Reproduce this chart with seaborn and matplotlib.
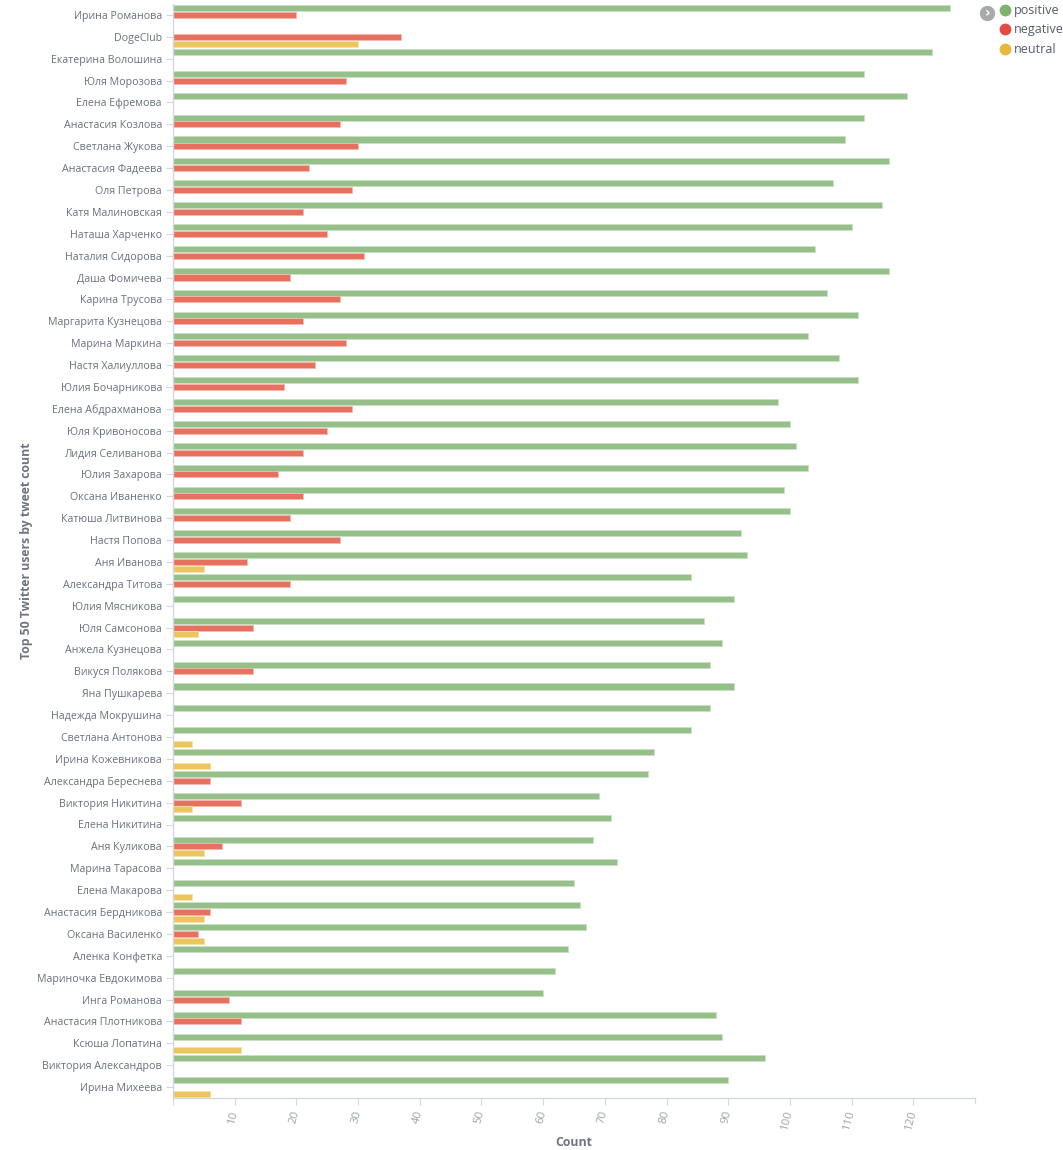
import numpy as np
import pandas as pd
import matplotlib
matplotlib.use("Agg")
import matplotlib.pyplot as plt
from matplotlib.lines import Line2D
import seaborn as sns

users = [
    "Ирина Романова", "DogeClub", "Екатерина Волошина", "Юля Морозова", "Елена Ефремова",
    "Анастасия Козлова", "Светлана Жукова", "Анастасия Фадеева", "Оля Петрова", "Катя Малиновская",
    "Наташа Харченко", "Наталия Сидорова", "Даша Фомичева", "Карина Трусова", "Маргарита Кузнецова",
    "Марина Маркина", "Настя Халиуллова", "Юлия Бочарникова", "Елена Абдрахманова", "Юля Кривоносова",
    "Лидия Селиванова", "Юлия Захарова", "Оксана Иваненко", "Катюша Литвинова", "Настя Попова",
    "Аня Иванова", "Александра Титова", "Юлия Мясникова", "Юля Самсонова", "Анжела Кузнецова",
    "Викуся Полякова", "Яна Пушкарева", "Надежда Мокрушина", "Светлана Антонова", "Ирина Кожевникова",
    "Александра Береснева", "Виктория Никитина", "Елена Никитина", "Аня Куликова", "Марина Тарасова",
    "Елена Макарова", "Анастасия Бердникова", "Оксана Василенко", "Аленка Конфетка", "Мариночка Евдокимова",
    "Инга Романова", "Анастасия Плотникова", "Ксюша Лопатина", "Виктория Александров", "Ирина Михеева",
]

positive = [126, None, 123, 112, 119, 112, 109, 116, 107, 115,
            110, 104, 116, 106, 111, 103, 108, 111, 98, 100,
            101, 103, 99, 100, 92, 93, 84, 91, 86, 89,
            87, 91, 87, 84, 78, 77, 69, 71, 68, 72,
            65, 66, 67, 64, 62, 60, 88, 89, 96, 90]
negative = [20, 37, None, 28, None, 27, 30, 22, 29, 21,
            25, 31, 19, 27, 21, 28, 23, 18, 29, 25,
            21, 17, 21, 19, 27, 12, 19, None, 13, None,
            13, None, None, None, None, 6, 11, None, 8, None,
            None, 6, 4, None, None, 9, 11, None, None, None]
neutral = [None, 30, None, None, None, None, None, None, None, None,
           None, None, None, None, None, None, None, None, None, None,
           None, None, None, None, None, 5, None, None, 4, None,
           None, None, None, 3, 6, None, 3, None, 5, None,
           3, 5, 5, None, None, None, None, 11, None, 6]

sentiments = ["positive", "negative", "neutral"]
bar_colors = {"positive": "#95C08A", "negative": "#E8705F", "neutral": "#EDC55F"}
edge_colors = {"positive": "#C9E0C2", "negative": "#F5B8B0", "neutral": "#F6E0A8"}
dot_colors = {"positive": "#7EB26D", "negative": "#E24D42", "neutral": "#EAB839"}

rows = []
for s, vals in zip(sentiments, [positive, negative, neutral]):
    for u, v in zip(users, vals):
        if v is not None:
            rows.append({"user": u, "sentiment": s, "count": v})
df = pd.DataFrame(rows)

sns.set_theme(style="white")
plt.rcParams["font.family"] = ["Open Sans", "DejaVu Sans"]

fig = plt.figure(figsize=(10.63, 11.5), dpi=100)
ax = fig.add_axes([173 / 1063, 1 - 1098 / 1150, (975 - 173) / 1063, (1098 - 4) / 1150])

sns.barplot(data=df, y="user", x="count", hue="sentiment", order=users,
            hue_order=sentiments, palette=bar_colors, orient="h", saturation=1,
            width=0.92, gap=0.1, legend=False, ax=ax, errorbar=None)

# light edges like the reference
for bars, s in zip(ax.containers, sentiments):
    for b in bars:
        b.set_edgecolor(edge_colors[s])
        b.set_linewidth(0.6)

ax.set_xlim(0, 130)
ax.set_ylim(len(users) - 0.5, -0.5)
ax.set_xticks(np.arange(0, 121, 10))
ax.set_xticklabels([("" if t == 0 else str(t)) for t in range(0, 121, 10)],
                   rotation=75, ha="right", va="center", rotation_mode="anchor",
                   color="#9CA2AB", fontsize=8.2)
ax.tick_params(axis="x", direction="out", length=5, width=0.8, color="#D3D8E0", pad=4,
               bottom=True)
ax.tick_params(axis="y", direction="out", length=5, width=0.8, color="#D3D8E0", pad=3,
               left=True, labelsize=7.7, labelcolor="#69707D")

for sp in ["top", "right"]:
    ax.spines[sp].set_visible(False)
for sp in ["left", "bottom"]:
    ax.spines[sp].set_color("#D3D8E0")
    ax.spines[sp].set_linewidth(1.0)

# extra end tick at 130
ax.plot([130, 130], [len(users) - 0.5, len(users) - 0.5 + 0.23], color="#D3D8E0",
        lw=0.8, clip_on=False)

ax.set_xlabel("")
ax.set_ylabel("")
fig.text(574 / 1063, 1 - 1142 / 1150, "Count", ha="center", va="center",
         fontsize=8.8, fontweight="bold", color="#6D7480")
fig.text(27 / 1063, 1 - 551 / 1150, "Top 50 Twitter users by tweet count", ha="center",
         va="center", rotation=90, fontsize=8.8, fontweight="bold", color="#6D7480")

# legend
handles = [Line2D([0], [0], marker="o", linestyle="", markersize=7.5,
                  markerfacecolor=dot_colors[s], markeredgecolor=dot_colors[s], label=s)
           for s in sentiments]
leg = fig.legend(handles=handles, loc="upper left", bbox_to_anchor=(1000 / 1063, 1 - 4 / 1150),
                 frameon=False, fontsize=9, handlelength=0.8, handletextpad=0.3,
                 labelspacing=0.52, borderpad=0.0, borderaxespad=0)
for t in leg.get_texts():
    t.set_color("#545B66")

# collapse icon
fig.add_artist(Line2D([987 / 1063], [1 - 13 / 1150], marker="o", markersize=10,
                      color="#A7A9AC", transform=fig.transFigure))
fig.text(987.5 / 1063, 1 - 13 / 1150, "›", ha="center", va="center", color="white",
         fontsize=10, fontweight="bold", family=["DejaVu Sans"])

fig.savefig("out.png", dpi=100, facecolor="white")
